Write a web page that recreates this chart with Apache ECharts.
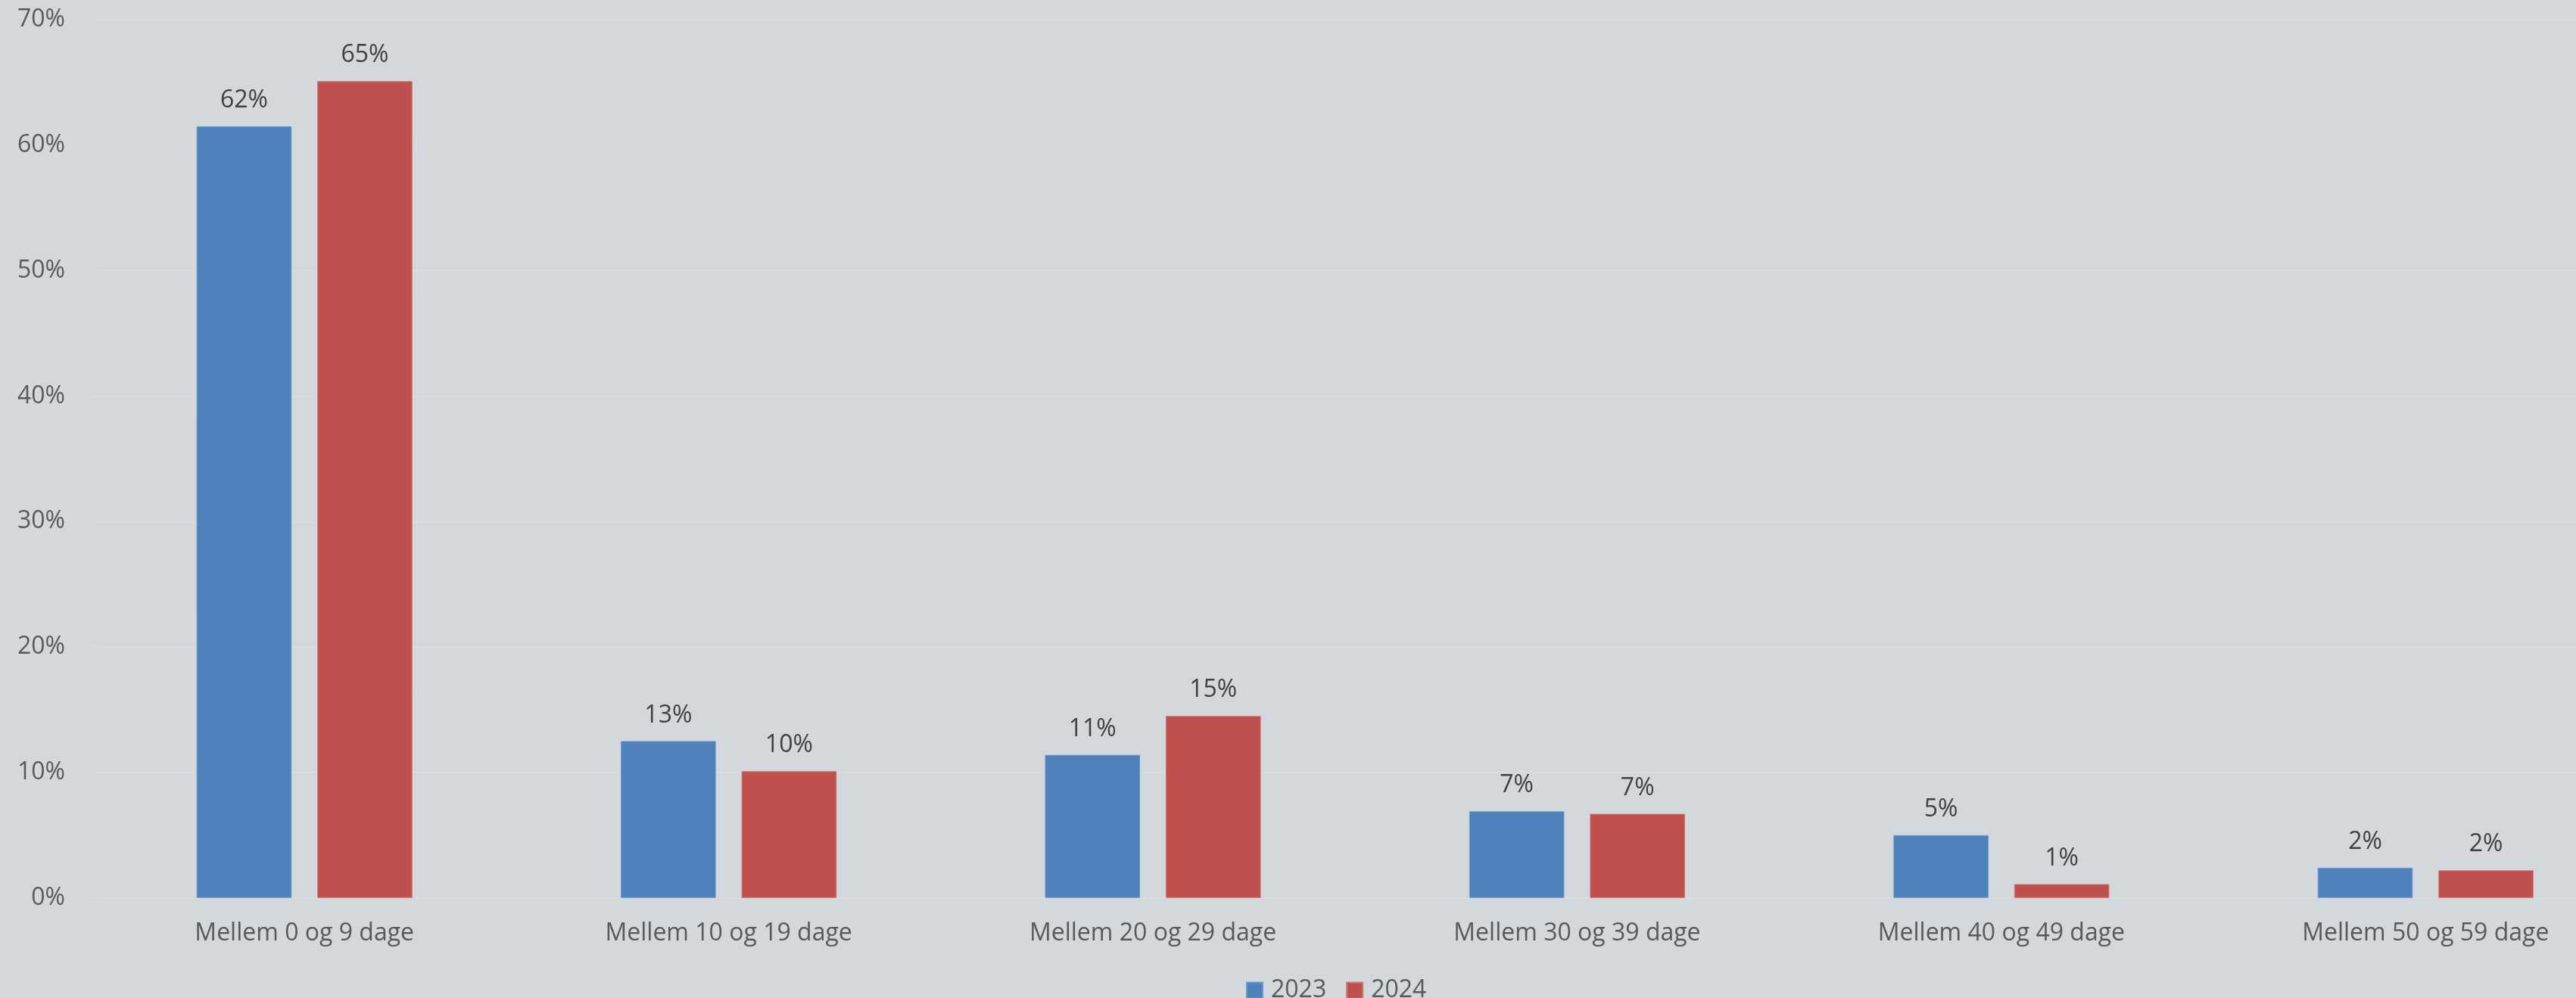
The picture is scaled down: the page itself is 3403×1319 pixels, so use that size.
<!DOCTYPE html>
<html>
<head>
<meta charset="utf-8">
<script src="https://cdn.jsdelivr.net/npm/echarts@6/dist/echarts.min.js"></script>
<style>
  html, body { margin: 0; padding: 0; background: #D3D8DC; }
  #chart { width: 3403px; height: 1319px; }
</style>
</head>
<body>
<div id="chart"></div>
<script>
const categories = ['Mellem 0 og 9 dage', 'Mellem 10 og 19 dage', 'Mellem 20 og 29 dage', 'Mellem 30 og 39 dage', 'Mellem 40 og 49 dage', 'Mellem 50 og 59 dage'];
const seriesNames = ['2023', '2024'];
const values2023 = [61.5, 12.5, 11.4, 6.9, 5.0, 2.4];
const values2024 = [65.1, 10.1, 14.5, 6.7, 1.1, 2.2];
const yTicks = [0, 10, 20, 30, 40, 50, 60, 70];

const FONT = '"Open Sans", "Noto Sans", sans-serif';
const chart = echarts.init(document.getElementById('chart'), null, { renderer: 'canvas' });

function barSeries(name, data, color, border) {
  return {
    name: name,
    type: 'bar',
    data: data,
    barWidth: 125.6,
    barGap: '27%',
    itemStyle: { color: color, borderColor: border, borderWidth: 1 },
    label: {
      show: true,
      position: 'top',
      distance: 18,
      formatter: p => Math.round(p.value) + '%',
      color: '#404040',
      fontFamily: FONT,
      fontSize: 32,
      lineHeight: 32
    }
  };
}

chart.setOption({
  backgroundColor: '#D3D8DC',
  animation: false,
  textStyle: { fontFamily: FONT },
  grid: {
    left: 122,
    top: 26,
    width: 3362.5,
    height: 1160.7,
    containLabel: false,
    outerBoundsMode: 'none'
  },
  legend: {
    data: seriesNames,
    left: 1641,
    top: 1288,
    itemWidth: 21,
    itemHeight: 21,
    itemGap: 26,
    icon: 'rect',
    textStyle: {
      color: '#595959',
      fontFamily: FONT,
      fontSize: 32,
      lineHeight: 32,
      padding: [0, 0, 0, 6]
    }
  },
  xAxis: {
    type: 'category',
    data: categories,
    axisLine: { show: false },
    axisTick: { show: false },
    axisLabel: {
      color: '#595959',
      fontFamily: FONT,
      fontSize: 32,
      lineHeight: 32,
      margin: 31,
      interval: 0
    }
  },
  yAxis: {
    type: 'value',
    min: yTicks[0],
    max: yTicks[yTicks.length - 1],
    interval: 10,
    axisLine: { show: false },
    axisTick: { show: false },
    splitLine: { show: true, lineStyle: { color: '#DBDBDB', width: 2 } },
    axisLabel: {
      color: '#595959',
      fontFamily: FONT,
      fontSize: 32,
      margin: 36,
      formatter: v => v + '%'
    }
  },
  series: [
    barSeries(seriesNames[0], values2023, '#4F81BD', '#6D97CA'),
    barSeries(seriesNames[1], values2024, '#C0504D', '#CD7673')
  ]
});
</script>
</body>
</html>
